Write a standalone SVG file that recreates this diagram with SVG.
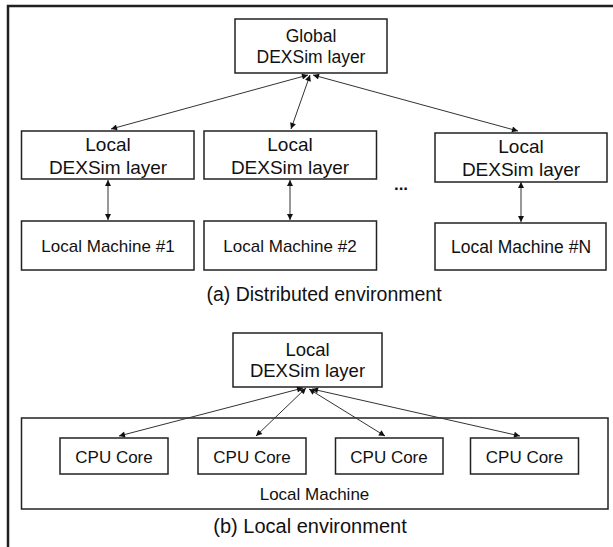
<svg xmlns="http://www.w3.org/2000/svg" width="613" height="547" viewBox="0 0 613 547">
<style>
.box{fill:#fff;stroke:#222;stroke-width:1.5}
.t{font-family:"Liberation Sans",Arial,sans-serif;fill:#111;text-anchor:middle}
.c{stroke:#333;stroke-width:1;fill:none;marker-start:url(#ah);marker-end:url(#ah)}
</style>
<defs>
<marker id="ah" viewBox="0 0 10 10" refX="10" refY="5" markerWidth="7" markerHeight="6" markerUnits="userSpaceOnUse" orient="auto-start-reverse">
<path d="M0,0 L10,5 L0,10 Z" fill="#111"/>
</marker>
</defs>
<rect width="613" height="547" fill="#fff"/>
<path d="M8,547 V6 H613" fill="none" stroke="#231f20" stroke-width="2.5"/>

<g id="global">
<rect class="box" x="235" y="19" width="152" height="54"/>
<text class="t" x="311" y="42" font-size="17.5">Global</text>
<text class="t" x="311" y="63" font-size="17.5">DEXSim layer</text>
</g>

<g id="local1">
<rect class="box" x="21.5" y="131" width="172.5" height="48"/>
<text class="t" x="108" y="151" font-size="19">Local</text>
<text class="t" x="108" y="174" font-size="19">DEXSim layer</text>
</g>
<g id="local2">
<rect class="box" x="204" y="131" width="172.5" height="48"/>
<text class="t" x="290" y="151" font-size="19">Local</text>
<text class="t" x="290" y="174" font-size="19">DEXSim layer</text>
</g>
<g id="localN">
<rect class="box" x="435" y="133" width="172" height="49"/>
<text class="t" x="521" y="153" font-size="19">Local</text>
<text class="t" x="521" y="176" font-size="19">DEXSim layer</text>
</g>

<g id="dots">
<text class="t" x="401" y="190" font-size="17" font-weight="bold">...</text>
</g>

<g id="machine1">
<rect class="box" x="21.5" y="221" width="172.5" height="49"/>
<text class="t" x="108" y="252" font-size="17">Local Machine #1</text>
</g>
<g id="machine2">
<rect class="box" x="204" y="221" width="172.5" height="49"/>
<text class="t" x="290" y="252" font-size="17">Local Machine #2</text>
</g>
<g id="machineN">
<rect class="box" x="435" y="223" width="171" height="47"/>
<text class="t" x="521" y="253" font-size="17.5">Local Machine #N</text>
</g>

<g id="caption-a">
<text class="t" x="324" y="301" font-size="19.5">(a) Distributed environment</text>
</g>

<g id="local-machine">
<rect class="box" x="21.5" y="418" width="586.5" height="91"/>
<text class="t" x="314.5" y="500" font-size="17">Local Machine</text>
</g>

<g id="local-b">
<rect class="box" x="233" y="333" width="149" height="54"/>
<text class="t" x="307.5" y="356" font-size="18.5">Local</text>
<text class="t" x="307.5" y="377" font-size="18.5">DEXSim layer</text>
</g>

<g id="cpu1">
<rect class="box" x="60" y="438" width="108" height="36"/>
<text class="t" x="114" y="463" font-size="17">CPU Core</text>
</g>
<g id="cpu2">
<rect class="box" x="198" y="438" width="108" height="36"/>
<text class="t" x="252" y="463" font-size="17">CPU Core</text>
</g>
<g id="cpu3">
<rect class="box" x="335.5" y="438" width="107.5" height="36"/>
<text class="t" x="389" y="463" font-size="17">CPU Core</text>
</g>
<g id="cpu4">
<rect class="box" x="470.5" y="438" width="108" height="36"/>
<text class="t" x="524.5" y="463" font-size="17">CPU Core</text>
</g>

<g id="caption-b">
<text class="t" x="310" y="533" font-size="20">(b) Local environment</text>
</g>

<g id="connectors">
<line class="c" x1="308" y1="75" x2="111" y2="129"/>
<line class="c" x1="310" y1="75" x2="291" y2="129"/>
<line class="c" x1="313" y1="75" x2="518" y2="131"/>
<line class="c" x1="108" y1="180" x2="108" y2="220"/>
<line class="c" x1="290" y1="180" x2="290" y2="220"/>
<line class="c" x1="521" y1="182" x2="521" y2="222"/>
<line class="c" x1="303" y1="388" x2="119" y2="436"/>
<line class="c" x1="306" y1="388" x2="256" y2="436"/>
<line class="c" x1="309" y1="389" x2="385" y2="436"/>
<line class="c" x1="312" y1="389" x2="520" y2="436"/>
</g>
</svg>
